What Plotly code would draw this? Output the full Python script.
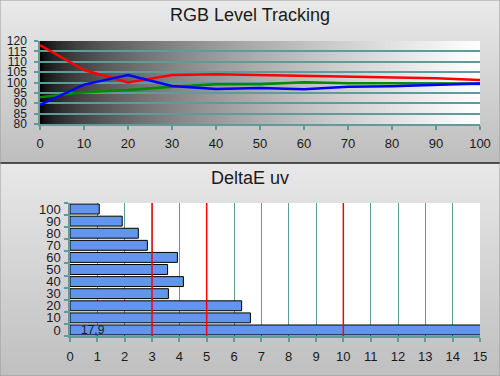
import base64
import struct
import zlib

import plotly.graph_objects as go

# ---------------- data ----------------
levels = [0, 10, 20, 30, 40, 50, 60, 70, 80, 90, 100]
red_vals = [118.0, 106.0, 100.0, 103.6, 104.0, 103.6, 103.2, 102.9, 102.3, 102.0, 101.2]
green_vals = [92.9, 95.3, 96.4, 98.0, 99.1, 99.2, 100.1, 99.6, 99.6, 99.5, 99.3]
blue_vals = [89.2, 99.0, 103.6, 98.3, 96.9, 97.4, 96.7, 98.0, 98.2, 99.0, 99.5]

de_labels = ["0", "10", "20", "30", "40", "50", "60", "70", "80", "90", "100"]
de_values = [17.9, 6.6, 6.28, 3.6, 4.15, 3.57, 3.93, 2.83, 2.5, 1.91, 1.07]
thresholds = [3, 5, 10]

W, H = 500, 376
TEAL = "#5f9b9b"
FONT = "Liberation Sans, Arial, sans-serif"


def png_uri(pixels, w, h):
    """pixels: list of rows, each a list of (r,g,b)."""
    raw = b""
    for row in pixels:
        raw += b"\x00" + bytes([c for px in row for c in px])

    def chunk(tag, data):
        c = struct.pack(">I", len(data)) + tag + data
        return c + struct.pack(">I", zlib.crc32(tag + data) & 0xFFFFFFFF)

    png = b"\x89PNG\r\n\x1a\n"
    png += chunk(b"IHDR", struct.pack(">IIBBBBB", w, h, 8, 2, 0, 0, 0))
    png += chunk(b"IDAT", zlib.compress(raw))
    png += chunk(b"IEND", b"")
    return "data:image/png;base64," + base64.b64encode(png).decode()


def vgrad(top, bottom, n=64):
    rows = []
    for i in range(n):
        t = i / (n - 1)
        v = int(round(top + (bottom - top) * t))
        rows.append([(v, v, v)])
    return png_uri(rows, 1, n)


def hgrad(n=256, gamma=0.55):
    row = []
    for i in range(n):
        t = i / (n - 1)
        v = int(round(255 * (t ** gamma)))
        row.append((v, v, v))
    return png_uri([row], n, 1)


def py(p):
    return 1 - p / H


fig = go.Figure()

fig.add_trace(go.Scatter(x=levels, y=green_vals, mode="lines",
                         line=dict(color="#008a00", width=2.5),
                         xaxis="x", yaxis="y", cliponaxis=False))
fig.add_trace(go.Scatter(x=levels, y=red_vals, mode="lines",
                         line=dict(color="#ff0000", width=2.5),
                         xaxis="x", yaxis="y", cliponaxis=False))
fig.add_trace(go.Scatter(x=levels, y=blue_vals, mode="lines",
                         line=dict(color="#0000ff", width=2.5),
                         xaxis="x", yaxis="y", cliponaxis=False))

fig.add_trace(go.Bar(y=de_labels, x=de_values, orientation="h",
                     marker=dict(color="#6495ed", line=dict(color="#000000", width=1)),
                     xaxis="x2", yaxis="y2"))

sep = 163
images = [
    dict(source=vgrad(234, 190), xref="paper", yref="paper", x=0, y=1,
         sizex=1, sizey=sep / H, xanchor="left", yanchor="top",
         sizing="stretch", layer="below"),
    dict(source=vgrad(232, 192), xref="paper", yref="paper", x=0, y=py(sep),
         sizex=1, sizey=(H - sep) / H, xanchor="left", yanchor="top",
         sizing="stretch", layer="below"),
    dict(source=hgrad(), xref="x", yref="y", x=0, y=120, sizex=100, sizey=40,
         xanchor="left", yanchor="top", sizing="stretch", layer="below"),
]

shapes = [
    dict(type="rect", xref="x2 domain", yref="y2 domain", x0=0, x1=1, y0=0, y1=1,
         fillcolor="white", line=dict(width=0), layer="below"),
    dict(type="line", xref="paper", yref="paper", x0=0, x1=1, y0=py(sep), y1=py(sep),
         line=dict(color="#222222", width=1.5)),
    dict(type="rect", xref="paper", yref="paper", x0=0, x1=1, y0=0, y1=1,
         line=dict(color="#9a9a9a", width=1)),
]
for t in thresholds:
    shapes.append(dict(type="line", xref="x2", yref="y2 domain", x0=t, x1=t, y0=0, y1=1,
                       line=dict(color="#ff0000", width=1.5), layer="above"))

annotations = [
    dict(text="RGB Level Tracking", x=0.5, y=py(15), xref="paper", yref="paper",
         xanchor="center", yanchor="middle", showarrow=False,
         font=dict(size=18, color="#1a1a1a", family=FONT)),
    dict(text="DeltaE uv", x=0.5, y=py(178), xref="paper", yref="paper",
         xanchor="center", yanchor="middle", showarrow=False,
         font=dict(size=18, color="#1a1a1a", family=FONT)),
    dict(text=f"{de_values[0]:.1f}".replace(".", ","), x=0.85, y=de_labels[0],
         xref="x2", yref="y2", xanchor="center", yanchor="middle", showarrow=False,
         font=dict(size=12, color="#1a1a2a", family=FONT)),
]

fig.update_layout(
    template="none",
    width=W, height=H,
    margin=dict(l=0, r=0, t=0, b=0, pad=0, autoexpand=False),
    paper_bgcolor="#d8d8d8", plot_bgcolor="white",
    showlegend=False,
    font=dict(family=FONT, color="#1a1a1a", size=13),
    images=images, shapes=shapes, annotations=annotations,
    bargap=0.18,
    xaxis=dict(domain=[40 / W, 480 / W], range=[0, 100], dtick=10,
               showgrid=False, zeroline=False, automargin=False,
               showline=True, linecolor=TEAL, linewidth=2,
               ticks="outside", ticklen=4, tickwidth=2, tickcolor=TEAL,
               tickfont=dict(size=13), ticklabelstandoff=2, anchor="y"),
    yaxis=dict(domain=[py(124), py(41)], range=[80, 120], dtick=5,
               showgrid=True, gridcolor=TEAL, gridwidth=1.5, zeroline=False,
               automargin=False,
               showline=True, linecolor=TEAL, linewidth=1.5,
               ticks="outside", ticklen=4, tickwidth=1.5, tickcolor=TEAL,
               tickfont=dict(size=12), ticklabelstandoff=5, anchor="x"),
    xaxis2=dict(domain=[70 / W, 480 / W], range=[0, 15], dtick=1,
                showgrid=True, gridcolor=TEAL, gridwidth=1, zeroline=False,
                automargin=False,
                showline=True, linecolor=TEAL, linewidth=2,
                ticks="outside", ticklen=4, tickwidth=1.5, tickcolor=TEAL,
                tickfont=dict(size=13), ticklabelstandoff=3, anchor="y2"),
    yaxis2=dict(domain=[py(336), py(203)], range=[-0.5, 10.5], type="category",
                categoryorder="array", categoryarray=de_labels,
                tickmode="array", tickvals=de_labels, ticktext=de_labels,
                showgrid=False, zeroline=False, automargin=False,
                showline=True, linecolor=TEAL, linewidth=1.5,
                ticks="outside", tickson="boundaries", ticklen=4, tickwidth=1.5,
                tickcolor=TEAL, tickfont=dict(size=13), ticklabelstandoff=5,
                anchor="x2"),
)

fig.write_html("out.html",
               config={"displayModeBar": False},
               post_script="document.body.style.margin='0';document.body.style.overflow='hidden';")
